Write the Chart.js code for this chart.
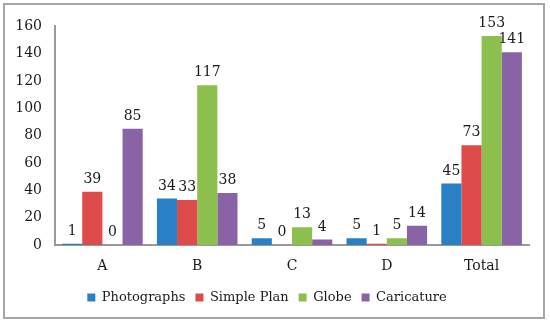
<!DOCTYPE html>
<html>
<head>
<meta charset="utf-8">
<script src="https://cdn.jsdelivr.net/npm/chart.js@4"></script>
<style>
  body { margin: 0; background: #fff; }
  #box {
    position: absolute; left: 3px; top: 3px;
    width: 542px; height: 316px;
    border: 2px solid #a6a6a6; box-sizing: border-box;
  }
</style>
</head>
<body>
<div id="box"><canvas id="chart"></canvas></div>
<script>
const categories = ["A", "B", "C", "D", "Total"];
const seriesNames = ["Photographs", "Simple Plan", "Globe", "Caricature"];
const photographs = [1, 34, 5, 5, 45];
const simplePlan = [39, 33, 0, 1, 73];
const globe = [0, 117, 13, 5, 153];
const caricature = [85, 38, 4, 14, 141];
const seriesColors = ["#2a80c5", "#de4b4b", "#8cbf4e", "#8a63a7"];
const yTicks = [0, 20, 40, 60, 80, 100, 120, 140, 160];

const FONT = "'DejaVu Serif', serif";

// draws the value above each bar
const valueLabels = {
    id: 'valueLabels',
    afterDatasetsDraw(chart) {
        const ctx = chart.ctx;
        ctx.save();
        ctx.font = "14px " + FONT;
        ctx.fillStyle = "#1a1a1a";
        ctx.textAlign = "center";
        ctx.textBaseline = "alphabetic";
        chart.data.datasets.forEach((ds, i) => {
            chart.getDatasetMeta(i).data.forEach((bar, j) => {
                ctx.fillText(ds.data[j], bar.x, bar.y - 9);
            });
        });
        ctx.restore();
    }
};

const allData = [photographs, simplePlan, globe, caricature];

new Chart(document.getElementById('chart'), {
    type: 'bar',
    data: {
        labels: categories,
        datasets: seriesNames.map((name, i) => ({
            label: name,
            data: allData[i],
            backgroundColor: seriesColors[i],
            borderWidth: 0,
            barPercentage: 1.0,
            categoryPercentage: 0.85
        }))
    },
    options: {
        responsive: true,
        maintainAspectRatio: false,
        animation: false,
        layout: { padding: { top: 17, right: 14, bottom: 3, left: 0 } },
        scales: {
            x: {
                grid: { display: false, drawTicks: false },
                border: { color: '#999', width: 2 },
                ticks: { color: '#1a1a1a', font: { family: FONT, size: 14 }, padding: 13 },
                afterFit(scale) { scale.height = 36; }
            },
            y: {
                min: 0,
                max: 160,
                afterBuildTicks(scale) { scale.ticks = yTicks.map(v => ({ value: v })); },
                grid: { display: false, drawTicks: false },
                border: { color: '#999', width: 2 },
                ticks: { color: '#1a1a1a', font: { family: FONT, size: 14 }, padding: 13 },
                afterFit(scale) { scale.width = 50; }
            }
        },
        plugins: {
            legend: {
                position: 'bottom',
                labels: {
                    color: '#1a1a1a',
                    font: { family: FONT, size: 13 },
                    boxWidth: 8,
                    boxHeight: 8,
                    padding: 10
                }
            },
            tooltip: { enabled: false }
        }
    },
    plugins: [valueLabels]
});
</script>
</body>
</html>
